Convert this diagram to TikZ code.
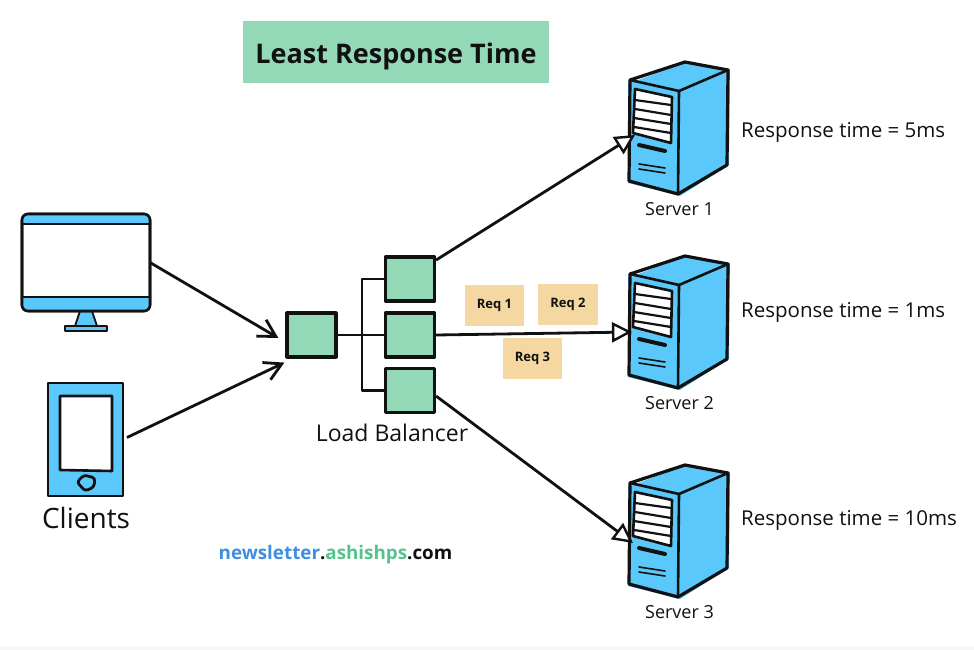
\documentclass[tikz,border=0pt]{standalone}
\usepackage{fontspec}
\setmainfont{Open Sans}
\usetikzlibrary{arrows.meta}
\definecolor{lbgreen}{HTML}{93D9B7}
\definecolor{devblue}{HTML}{5AC8FA}
\definecolor{reqtan}{HTML}{F5D7A1}
\definecolor{inkblk}{HTML}{111111}
\definecolor{wmblue}{HTML}{3F8FDF}
\definecolor{wmgreen}{HTML}{55C48C}
\definecolor{stripgray}{HTML}{F7F7F7}
\tikzset{
  ink/.style={draw=inkblk,line width=2.6pt,line join=round,line cap=round},
  thinink/.style={draw=inkblk,line width=1.6pt,line join=round,line cap=round},
  lbbox/.style={draw=inkblk,line width=3.2pt,fill=lbgreen,minimum width=49pt,minimum height=44pt,inner sep=0pt,line join=round},
  reqbox/.style={fill=reqtan,minimum width=59.5pt,minimum height=41pt,inner sep=0pt,font=\fontsize{13}{15}\selectfont\bfseries,text=inkblk},
  ghost/.style={inner sep=0pt,outer sep=0pt},
  srvlabel/.style={inner sep=0pt,font=\fontsize{18}{20}\selectfont,text=inkblk},
  resplabel/.style={inner sep=0pt,anchor=west,font=\fontsize{20.5}{23}\selectfont,text=inkblk},
  toserver/.style={draw=inkblk,line width=2.8pt,-{Triangle[fill=white,length=20pt,width=20pt,line width=2.4pt]}},
  fromclient/.style={draw=inkblk,line width=2.8pt,-{Straight Barb[length=17pt,width=19pt,line width=2.8pt]}},
  bus/.style={draw=inkblk,line width=2.6pt,line join=round},
}
\newcommand{\serverdrawing}[2]{%
  \begin{scope}[shift={(0,#1)}]
    \fill[devblue] (628,84) -- (685,62) -- (730,69) -- (729,165) -- (680,196) -- (628,183) -- cycle;
    \draw[ink,line width=3.2pt] (630,80) -- (685,62) -- (728,70) -- (727,165) -- (678,194) -- (629,181) -- cycle;
    \draw[ink] (630,80) -- (679,91) -- (728,70);
    \draw[ink] (679,91) -- (678,194);
    \fill[white] (635,89) -- (672,97) -- (671,143) -- (633,133) -- cycle;
    \draw[ink] (671,143) -- (633,133) -- (635,89) -- (672,97) -- (671,143);
    \draw[thinink,line width=2.2pt] (635,100) -- (671,105);
    \draw[thinink,line width=2.2pt] (635,109) -- (671,115);
    \draw[thinink,line width=2.2pt] (634,118) -- (671,124);
    \draw[thinink,line width=2.2pt] (634,127) -- (671,133);
    \draw[ink,line width=4pt] (639,145) -- (665,151);
    \draw[thinink] (639,164) -- (665,168);
    \draw[thinink] (639,169) -- (665,173);
    \node[srvlabel] (#2) at (679.5,209.5) {Server \the\numexpr#1/195+1\relax};
  \end{scope}%
}
\begin{document}
\begin{tikzpicture}[x=1pt,y=-1pt]
\useasboundingbox (0,0) rectangle (974,650);
\fill[white] (0,0) rectangle (974,650);
\fill[stripgray] (0,646) rectangle (974,650);

% title
\node[fill=lbgreen,minimum width=306pt,minimum height=62pt,inner sep=0pt,font=\fontsize{27}{31}\selectfont\bfseries,text=inkblk] (title) at (396,52) {\raisebox{-12pt}[0pt][0pt]{Least Response Time}};

% monitor
\node[ghost,minimum width=128pt,minimum height=97pt] (monitor) at (86,262.5) {};
\fill[devblue] (80,311) -- (92,311) -- (97,326) -- (75,326) -- cycle;
\draw[ink,line width=1.8pt] (80,311) -- (75,326) (92,311) -- (97,326);
\draw[ink,line width=1.8pt,fill=devblue] (65,326) rectangle (107,331);
\draw[ink,fill=white,rounded corners=6pt] (22,214) rectangle (150,311);
\begin{scope}
  \clip[rounded corners=6pt] (22,214) rectangle (150,311);
  \fill[devblue] (22,214) rectangle (150,224);
  \fill[devblue] (22,297) rectangle (150,311);
\end{scope}
\draw[ink,rounded corners=6pt] (22,214) rectangle (150,311);
\draw[ink] (22,224) -- (150,224) (22,297) -- (150,297);

% phone
\node[ghost,minimum width=75pt,minimum height=113pt] (phone) at (85.5,439.5) {};
\draw[ink,fill=devblue] (48,383) -- (123,383) -- (123,496) -- (48,496) -- cycle;
\draw[ink,fill=white] (60,396) -- (112,396) -- (112,471) -- (60,470) -- cycle;
\draw[ink,line width=2.8pt,fill=devblue,rounded corners=3pt] (77,482) -- (84,475) -- (95,478) -- (94,487) -- (85,491) -- cycle;
\node[inner sep=0pt,font=\fontsize{28}{32}\selectfont,text=inkblk] (clients) at (86,518) {Clients};

% servers
\serverdrawing{0}{srv1}
\serverdrawing{194}{srv2}
\serverdrawing{403}{srv3}
\coordinate (s1in) at (635,135);
\coordinate (s2in) at (632,332);
\coordinate (s3in) at (633,543);

% load balancer
\node[lbbox] (lb) at (311.5,335) {};
\node[lbbox] (b1) at (410,279) {};
\node[lbbox] (b2) at (410,335) {};
\node[lbbox] (b3) at (410,390.5) {};
\coordinate (junction) at (362,336);
\draw[bus] (lb.east) -- (b2.west);
\draw[bus] (b1.west) -| (junction) |- (b3.west);
\node[inner sep=0pt,font=\fontsize{23}{26}\selectfont,text=inkblk] (lblabel) at (392,433) {Load Balancer};

% requests
\node[reqbox] (r1) at (494.5,305.5) {Req 1};
\node[reqbox] (r2) at (568,304.5) {Req 2};
\node[reqbox] (r3) at (532.5,358.5) {Req 3};

% connectors
\draw[fromclient] (monitor.east) -- ([shift={(-7pt,-3pt)}]lb.west);
\draw[fromclient] ([shift={(4pt,2pt)}]phone.east) -- ([shift={(-1pt,-4pt)}]lb.south west);
\draw[toserver] (b1.36) -- (s1in);
\draw[toserver] (b2.east) -- (s2in);
\draw[toserver] (b3.-12) -- (s3in);

% response labels
\node[resplabel] (t1) at (741,132) {Response time = 5ms};
\node[resplabel] (t2) at (741,312) {Response time = 1ms};
\node[resplabel] (t3) at (741,520) {Response time = 10ms};

% watermark
\node[inner sep=0pt,font=\fontsize{18.8}{22}\selectfont\bfseries] (wm) at (335.5,555) {\textcolor{wmblue}{newsletter}\textcolor{inkblk}{.}\textcolor{wmgreen}{ashishps}\textcolor{inkblk}{.com}};
\end{tikzpicture}
\end{document}
